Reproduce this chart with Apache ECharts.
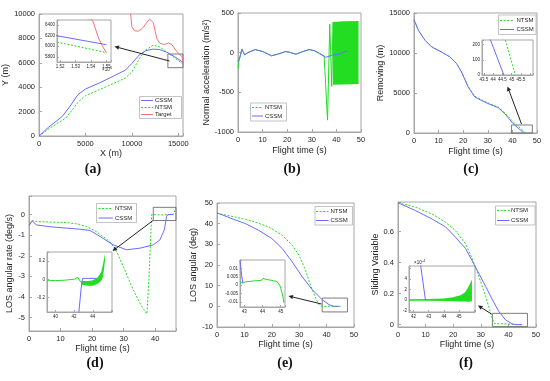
<!DOCTYPE html>
<html><head><meta charset="utf-8">
<script src="https://cdn.jsdelivr.net/npm/echarts@6/dist/echarts.min.js"></script>
<style>html,body{margin:0;padding:0;background:#fff}#c{width:550px;height:381px}</style>
</head><body><div id="c"></div>
<script>
// ---------------- DATA ----------------
// (a) trajectories  [X (m), Y (m)]
const cssm_a = [[0,0],[1000,700],[2500,1600],[3300,2400],[4200,3400],[5000,3850],[6500,4350],[8000,4900],[9300,5400],[10000,5950],[10800,6650],[11500,7000],[12300,7120],[13000,7080],[13800,6850],[14600,6500],[15180,6200],[15500,6030]];
const ntsm_a = [[0,0],[1100,620],[2900,1480],[4300,2850],[5000,3300],[6500,3800],[8000,4300],[9300,4750],[10000,5250],[10700,6200],[11400,7000],[12300,7450],[13000,7300],[13900,6800],[14600,6400],[15180,6080],[15500,5880]];
const target_a = [[9860,10000],[9930,9500],[10000,8950],[10300,8620],[10700,8600],[11100,8800],[11500,9200],[11900,9580],[12100,9600],[12300,9300],[12500,8600],[12700,7950],[13000,7600],[13500,7500],[13950,7620],[14300,7500],[14700,7050],[15050,6750],[15410,6500],[15450,6150],[15475,6000],[15500,5880]];
// (b) normal acceleration [t, m/s^2]
const cssm_b = [[0,-110],[0.8,-50],[1.6,45],[2.7,-28],[4,0],[7,40],[10,15],[13.6,-40],[16,-20],[19.4,13],[21,5],[23.5,-20],[26,10],[28.9,40],[31,25],[33,-10],[35.7,-58],[38.5,-30],[41,-20],[44.6,25]];
const ntsm_b = [[0,-200],[0.3,-120],[1.6,40],[2.7,-25],[4,0],[7,38],[10,15],[13.6,-38],[16,-20],[19.4,15],[21,5],[23.5,-18],[26,10],[28.9,38],[31,25],[33,-5],[35,-40],[35.8,-60],[36.4,-850],[37.3,358],[38.1,-425],[38.6,388]];
const ntsm_b_upper = [[38.6,388],[43,395],[49,400]];
const ntsm_b_lower = [[38.6,-404],[43,-400],[49,-396]];
// (c) removing [t, m]
const cssm_c = [[0,14170],[1.8,12830],[4.5,11580],[7.2,10750],[11.2,10125],[14.6,9500],[17.3,8670],[19.3,7625],[22,5750],[24.7,4500],[27.4,4080],[30.1,3670],[34.2,3170],[36.9,2420],[40.3,1170],[42.2,650],[43.86,229],[44.58,0]];
const ntsm_c = [[0,14170],[1.8,12850],[4.5,11600],[7.2,10780],[11.2,10150],[14.6,9520],[17.3,8700],[19.3,7680],[22,5850],[24.7,4600],[27.4,4150],[30.1,3750],[34.2,3250],[36.9,2520],[40.3,1400],[42.5,800],[44.66,229],[45.2,0]];
// (d) LOS angular rate [t, deg/s]
const cssm_d = [[0,-0.55],[1.06,-0.3],[2.3,-0.5],[6,-0.58],[11.9,-0.66],[16,-0.71],[19.3,-0.77],[22.5,-1.06],[26.7,-1.47],[30.9,-1.71],[35.2,-1.63],[39.4,-1.47],[41.5,-1.23],[42.9,-0.74],[43.6,-0.1],[44,0],[45.8,0]];
const ntsm_d = [[0,-0.42],[1.06,-0.3],[2.3,-0.34],[6,-0.36],[11.9,-0.39],[15,-0.45],[18.2,-0.58],[21.4,-0.83],[25.6,-1.31],[27.8,-1.8],[29.9,-2.52],[33,-3.65],[35.7,-4.45],[37.4,-4.82],[38,-3.17],[38.9,0],[42,-0.02],[45.5,0],[46,0.1],[46.6,0.3]];
const cssm_d_zoom = [[42.5,-0.37],[42.75,-0.1],[42.9,0.01],[44.4,0.01]];
const ntsm_d_zoom = [[39.1,-0.01],[40,-0.015],[41,-0.01],[42,0.0],[42.4,0.02],[42.7,-0.03],[42.9,-0.045]];
const ntsm_d_upper = [[42.8,-0.02],[43.5,-0.02],[44,-0.01],[44.5,0.02],[44.9,0.08],[45.1,0.17],[45.3,0.28]];
const ntsm_d_lower = [[42.8,-0.06],[43.5,-0.07],[44,-0.07],[44.5,-0.05],[44.9,-0.02],[45.1,0.03],[45.3,0.2]];
// (e) LOS angular [t, deg]
const cssm_e = [[0,45.2],[5.5,42.4],[10.4,40],[15.2,36.8],[20,32.8],[23.8,28],[27.4,21.6],[31.1,14.3],[34.8,8],[38.4,3.2],[40.9,0.8],[42.7,0],[44.5,0]];
const ntsm_e = [[0,45],[6.7,43.2],[12.8,41.3],[18.9,38.4],[23.8,34.4],[27.4,29.6],[29.9,24.8],[32.3,17.5],[34.1,10.3],[36,4],[37.2,0.8],[38.4,0],[45.5,0]];
const cssm_e_zoom = [[42.76,0.0148],[42.85,0.006],[42.92,0.001]];
const ntsm_e_zoom = [[42.76,0.0018],[42.85,0.0022],[42.95,0.0017],[43.05,0.0024],[43.15,0.0021],[43.25,0.0027],[43.35,0.0023],[43.45,0.0029],[43.55,0.0026],[43.65,0.0031],[43.75,0.0027],[43.85,0.0033],[43.95,0.0029],[44.03,0.0041],[44.1,0.003],[44.2,0.0034],[44.3,0.0027],[44.4,0.0031],[44.5,0.0024],[44.6,0.0027],[44.7,0.0019],[44.8,0.0021],[44.9,0.001],[44.97,-0.0005],[45.05,-0.0035],[45.12,-0.0065],[45.18,-0.0105]];
// (f) sliding variable [t, s]
const cssm_f = [[0,0.785],[6.3,0.735],[12.4,0.68],[17.2,0.63],[20.8,0.564],[24.5,0.49],[28.1,0.37],[31.8,0.245],[34.2,0.16],[36.6,0.083],[39,0.03],[41.5,0.004],[42.7,0],[45,0]];
const ntsm_f = [[0,0.785],[6.3,0.757],[12.4,0.712],[17.2,0.66],[20.8,0.606],[24.5,0.52],[26.9,0.425],[29.3,0.31],[31.8,0.18],[33.6,0.073],[34.8,0.008],[35.4,0],[45,0]];
const cssm_f_zoom = [[42.45,7e-4],[42.78,0.05e-4]];
const ntsm_f_upper = [[41.7,0.15e-4],[43,0.2e-4],[44,0.3e-4],[44.6,0.5e-4],[45.1,0.9e-4],[45.4,1.5e-4],[45.6,2.4e-4],[45.75,3.3e-4],[45.85,3.9e-4]];
const ntsm_f_lower = [[41.7,-0.15e-4],[43,-0.15e-4],[44,-0.2e-4],[44.6,-0.25e-4],[45.1,-0.3e-4],[45.4,-0.3e-4],[45.6,-0.35e-4],[45.75,-0.3e-4],[45.85,-0.2e-4]];

// ---------------- STYLE ----------------
const BLUE = '#6b6bff', GREEN = '#22dd22', RED = '#ff6f6f';
const AX = '#a6a6a6', TXT = '#262626';
const FF = '"Liberation Sans", Arial, sans-serif';

function fmtNum(v){ return String(parseFloat(v.toFixed(6))); }
function axis(gi, min, max, step, o){
  o = o || {};
  const inset = gi >= 6;
  const a = {
    type:'value', gridIndex:gi, min:min, max:max, minInterval:step, maxInterval:step,
    splitNumber: Math.max(1, Math.round((max-min)/step)),
    axisLine:{show:true, onZero:false, lineStyle:{color:AX, width:1}},
    axisTick:{show:true, inside:true, length: inset?2:3, lineStyle:{color:AX}},
    splitLine:{show:false},
    axisLabel:{fontSize: inset?4.5:7.5, color:TXT, fontFamily:FF, margin: inset?2:4, hideOverlap:false,
      showMinLabel:true, showMaxLabel:true,
      formatter: function(v){
        if (Math.abs(v/step - Math.round(v/step)) > 1e-6) return '';
        if (o.hideAbove != null && v > o.hideAbove + 1e-12) return '';
        return o.fmt ? o.fmt(v) : fmtNum(v);
      }}
  };
  if (o.name){ a.name = o.name; a.nameLocation = 'middle'; a.nameGap = o.gap; a.nameTextStyle = {fontSize:9, color:TXT, fontFamily:FF}; }
  return a;
}

const gridBoxes = [
 [39,14,144,122],[238,13,123,119],[414,13,123,120],[29,196,147,135],[217,203,137,124],[398,202,138,125],
 [57,20,54,42],[482,40,51,35],[47,252,65,60],[240,260,45,47],[409,266,66,46]
];
const grids = gridBoxes.map(function(b){ return {left:b[0], top:b[1], width:b[2], height:b[3], show:true, borderColor:AX, borderWidth:1, backgroundColor:'#fff', containLabel:false}; });

const xAxes = [
  axis(0,0,15500,5000,{name:'X (m)',gap:12}),
  axis(1,0,50,10,{name:'Flight time (s)',gap:14}),
  axis(2,0,50,10,{name:'Flight time (s)',gap:14}),
  axis(3,0,46.6,10,{name:'Flight time (s)',gap:10}),
  axis(4,0,50,10,{name:'Flight time (s)',gap:13}),
  axis(5,0,50,10,{name:'Flight time (s)',gap:13}),
  axis(6,15180,15530,100,{fmt:function(v){return (v/10000).toFixed(2);}}),
  axis(7,43.4,46.15,0.5,{hideAbove:45.5}),
  axis(8,39.1,46.05,2,{hideAbove:44}),
  axis(9,42.76,45.24,1),
  axis(10,41.7,46.05,1,{hideAbove:45})
];
const yAxes = [
  axis(0,0,10000,2000,{name:'Y (m)',gap:24}),
  axis(1,-1000,500,500,{name:'Normal acceleration (m/s²)',gap:23}),
  axis(2,0,15000,5000,{name:'Removing (m)',gap:27}),
  axis(3,-5.65,0.9,1,{name:'LOS angular rate (deg/s)',gap:11}),
  axis(4,-10,50,10,{name:'LOS angular (deg)',gap:17}),
  axis(5,-0.015,0.79,0.2,{name:'Sliding Variable',gap:16}),
  axis(6,5700,6500,200),
  axis(7,0,230,100),
  axis(8,-0.36,0.3,0.2),
  axis(9,-0.013,0.015,0.005,{hideAbove:0.01}),
  axis(10,-2.3e-4,6.5e-4,2e-4,{hideAbove:4e-4, fmt:function(v){return fmtNum(v/1e-4);}})
];

function ln(gi, data, color, dash, z){
  return {type:'line', xAxisIndex:gi, yAxisIndex:gi, data:data, showSymbol:false, symbol:'none', silent:true, clip:true,
    lineStyle:{color:color, width:1, type: dash ? [2,1.6] : 'solid'}, itemStyle:{color:color}, z: z||2};
}
function band(gi, upper, lower, color){
  const pts = upper.concat(lower.slice().reverse());
  return {type:'custom', xAxisIndex:gi, yAxisIndex:gi, data:pts, silent:true, z:2,
    renderItem:function(params, api){
      if (params.dataIndex !== 0) return null;
      return {type:'polygon', shape:{points: pts.map(function(p){return api.coord(p);})}, style:{fill:color}};
    }};
}
function zoomBox(series, x1, y1, x2, y2){
  series.markArea = {silent:true, itemStyle:{color:'rgba(0,0,0,0)', borderColor:'#5a5a5a', borderWidth:0.8},
    data:[[{coord:[x1,y1]},{coord:[x2,y2]}]]};
  return series;
}

const series = [
  // (a)
  ln(0, ntsm_a, GREEN, true), ln(0, target_a, RED, false), zoomBox(ln(0, cssm_a, BLUE, false, 3), 13870, 6720, 15500, 5600),
  ln(6, ntsm_a, GREEN, true), ln(6, target_a, RED, false), ln(6, cssm_a, BLUE, false, 3),
  // (b)
  ln(1, ntsm_b, GREEN, false), band(1, ntsm_b_upper, ntsm_b_lower, GREEN), ln(1, cssm_b, BLUE, false, 3),
  // (c)
  ln(2, ntsm_c, GREEN, true), zoomBox(ln(2, cssm_c, BLUE, false, 3), 39.6, 0, 48.1, 1000),
  ln(7, ntsm_c, GREEN, true), ln(7, cssm_c, BLUE, false, 3),
  // (d)
  ln(3, ntsm_d, GREEN, true), zoomBox(ln(3, cssm_d, BLUE, false, 3), 39.4, 0.35, 46.6, -0.29),
  ln(8, ntsm_d_zoom, GREEN, false), band(8, ntsm_d_upper, ntsm_d_lower, GREEN), ln(8, cssm_d_zoom, BLUE, false, 3),
  // (e)
  ln(4, ntsm_e, GREEN, true), zoomBox(ln(4, cssm_e, BLUE, false, 3), 38.4, 4.0, 47.6, -2.7),
  ln(9, ntsm_e_zoom, GREEN, false), ln(9, cssm_e_zoom, BLUE, false, 3),
  // (f)
  ln(5, ntsm_f, GREEN, true), zoomBox(ln(5, cssm_f, BLUE, false, 3), 34.2, 0.073, 46.9, -0.013),
  band(10, ntsm_f_upper, ntsm_f_lower, GREEN), ln(10, cssm_f_zoom, BLUE, false, 3)
];

// ---------------- ANNOTATIONS ----------------
function legend(x, y, w, h, lx1, lx2, tx, rows){
  const els = [{type:'rect', shape:{x:x, y:y, width:w, height:h}, style:{fill:'#fff', stroke:'#b4b4b4', lineWidth:0.8}, z:10}];
  rows.forEach(function(r){
    els.push({type:'line', shape:{x1:lx1, y1:r.y, x2:lx2, y2:r.y}, style:{stroke:r.color, lineWidth:1, lineDash: r.dash ? [2,1.6] : null}, z:11});
    els.push({type:'text', x:tx, y:r.y, style:{text:r.name, fontSize:6, fontFamily:FF, fill:TXT, verticalAlign:'middle', textVerticalAlign:'middle'}, z:11});
  });
  return els;
}
function arrow(x1, y1, x2, y2){
  const dx = x2-x1, dy = y2-y1, L = Math.hypot(dx,dy), ux = dx/L, uy = dy/L, s = 4.5, w = 2.2;
  const bx = x2-ux*s, by = y2-uy*s;
  return [
    {type:'line', shape:{x1:x1, y1:y1, x2:bx, y2:by}, style:{stroke:'#222', lineWidth:1}, z:12},
    {type:'polygon', shape:{points:[[x2,y2],[bx-uy*w, by+ux*w],[bx+uy*w, by-ux*w]]}, style:{fill:'#222'}, z:12}
  ];
}
function label(cx, cy, t){
  return {type:'text', x:cx, y:cy, style:{text:t, fontSize:14, fontWeight:'bold', fontFamily:'"Liberation Serif", "Times New Roman", serif', fill:'#111', align:'center', textAlign:'center', verticalAlign:'middle', textVerticalAlign:'middle'}, z:12};
}
function small(x, y, t, fs){
  return {type:'text', x:x, y:y, style:{text:t, fontSize:fs, fontFamily:FF, fill:TXT, verticalAlign:'middle', textVerticalAlign:'middle'}, z:12};
}

const N = {name:'NTSM', color:GREEN, dash:true}, C = {name:'CSSM', color:BLUE};
let graphics = [];
graphics = graphics.concat(
  legend(139.5, 96.5, 42, 22, 141, 153, 155, [{name:'CSSM', color:BLUE, y:100.5},{name:'NTSM', color:GREEN, dash:true, y:107.5},{name:'Target', color:RED, y:114.5}]),
  legend(250.5, 103, 36, 18, 252, 263, 265, [Object.assign({y:107.5},N), Object.assign({y:116},C)]),
  legend(498.5, 15, 37.5, 19.5, 500, 514, 516.5, [Object.assign({y:20.5},N), Object.assign({y:29.5},C)]),
  legend(96.5, 203.5, 40, 19, 98.5, 113, 115, [Object.assign({y:208.5},N), Object.assign({y:218},C)]),
  legend(315, 206.5, 37.5, 18.5, 316, 328.5, 330.5, [Object.assign({y:211.5},N), Object.assign({y:220.5},C)]),
  legend(495.5, 206, 39.5, 19, 497, 509.5, 511, [Object.assign({y:210.5},N), Object.assign({y:220.5},C)]),
  arrow(169.5, 61, 114.5, 46.5),
  arrow(521.5, 124, 507.5, 86.5),
  arrow(153, 220.5, 112.5, 251),
  arrow(321.5, 304, 288.5, 296),
  arrow(491.5, 314, 478, 305.5),
  [label(93,169,'(a)'), label(292,169,'(b)'), label(471,169,'(c)'), label(95,363,'(d)'), label(285,363,'(e)'), label(466,363,'(f)')],
  [small(102, 70, '×10', 4.5), small(110, 68, '4', 3.5), small(414, 263, '×10', 4.5), small(422, 261, '-4', 3.5)]
);

const chart = echarts.init(document.getElementById('c'), null, {renderer:'canvas', width:550, height:381});
chart.setOption({
  animation:false,
  backgroundColor:'#fff',
  grid: grids,
  xAxis: xAxes,
  yAxis: yAxes,
  series: series,
  graphic: {elements: graphics}
});
</script></body></html>
